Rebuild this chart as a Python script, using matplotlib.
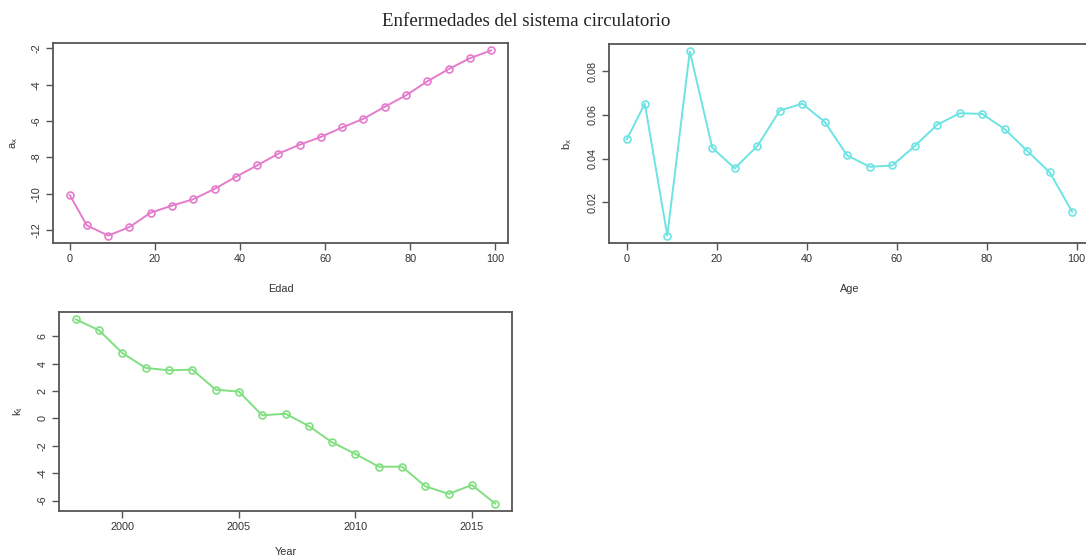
import matplotlib
matplotlib.use("Agg")
import matplotlib.pyplot as plt

ages = [0, 4, 9, 14, 19, 24, 29, 34, 39, 44, 49, 54, 59, 64, 69, 74, 79, 84, 89, 94, 99]
a_x = [-10.08, -11.74, -12.30, -11.83, -11.04, -10.65, -10.30, -9.73, -9.07, -8.44,
       -7.79, -7.30, -6.87, -6.35, -5.87, -5.21, -4.58, -3.81, -3.14, -2.54, -2.11]
b_x = [0.0488, 0.0652, 0.0046, 0.0892, 0.0449, 0.0355, 0.0457, 0.0620, 0.0652, 0.0568,
       0.0414, 0.0362, 0.0368, 0.0457, 0.0555, 0.0608, 0.0605, 0.0535, 0.0435, 0.0337, 0.0155]
years = list(range(1998, 2017))
k_t = [7.24, 6.44, 4.78, 3.69, 3.52, 3.57, 2.11, 1.96, 0.23, 0.35, -0.55, -1.74,
       -2.59, -3.52, -3.52, -4.95, -5.51, -4.86, -6.22]

title = "Enfermedades del sistema circulatorio"

plt.rcParams['font.family'] = ['Liberation Sans', 'DejaVu Sans']
plt.rcParams['axes.unicode_minus'] = False

fig = plt.figure(figsize=(10.86, 5.59), dpi=100)
W, H = 1086, 559

def add_ax(l, r, t, b):
    return fig.add_axes([l / W, (H - b) / H, (r - l) / W, (b - t) / H])

def rlim(v):
    lo, hi = min(v), max(v)
    d = (hi - lo) * 0.04
    return lo - d, hi + d

def style(ax):
    for s in ax.spines.values():
        s.set_color('#555555')
        s.set_linewidth(1.3)
    ax.tick_params(axis='both', direction='out', length=5, width=1.0, color='#555555',
                   labelsize=7.8, labelcolor='#333333', pad=3)
    for lab in ax.get_yticklabels():
        lab.set_rotation(90)
        lab.set_va('center')

def draw(ax, x, y, color):
    ax.plot(x, y, color=color, lw=1.4, marker='o', ms=5, mfc='none', mec=color, mew=1.2)
    ax.set_xlim(*rlim(x))
    ax.set_ylim(*rlim(y))

def labels(ax, xl, yl, ylx, xpad=14):
    ax.set_xlabel(xl, fontsize=7.8, color='#333333', labelpad=xpad)
    ax.set_ylabel(yl, fontsize=8, color='#333333', va='center')
    ax.yaxis.set_label_coords(ylx, 0.5)

ax1 = add_ax(53, 508, 43, 243)
draw(ax1, ages, a_x, '#E57BCB')
ax1.set_xticks([0, 20, 40, 60, 80, 100])
ax1.set_yticks([-12, -10, -8, -6, -4, -2])
style(ax1)
labels(ax1, 'Edad', '$\\mathregular{a_x}$', -0.086)

ax2 = add_ax(609, 1090, 44, 243)
draw(ax2, ages, b_x, '#6EE3E3')
ax2.set_xticks([0, 20, 40, 60, 80, 100])
ax2.set_yticks([0.02, 0.04, 0.06, 0.08])
ax2.set_yticklabels(['0.02', '0.04', '0.06', '0.08'])
style(ax2)
labels(ax2, 'Age', '$\\mathregular{b_x}$', -0.087)

ax3 = add_ax(59, 512, 312, 511)
draw(ax3, years, k_t, '#80DF80')
ax3.set_xticks([2000, 2005, 2010, 2015])
ax3.set_yticks([-6, -4, -2, 0, 2, 4, 6])
style(ax3)
labels(ax3, 'Year', '$\\mathregular{k_t}$', -0.09, xpad=11)

fig.text(526 / W, 1 - 22 / H, title, ha='center', va='center', fontsize=13.6,
         family=['Liberation Serif', 'DejaVu Serif'], color='#222222')

fig.savefig('out.png', dpi=100)
